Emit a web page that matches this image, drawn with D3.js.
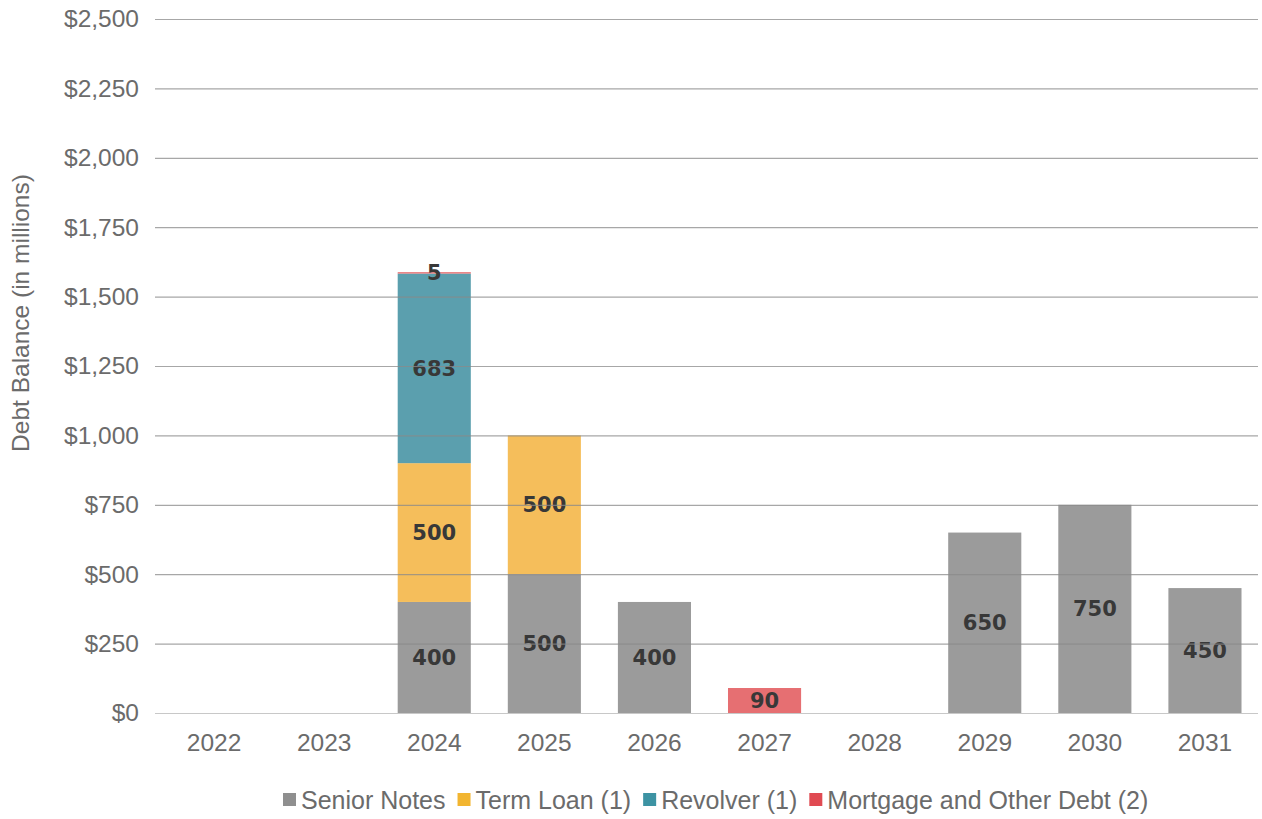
<!doctype html>
<html>
<head>
  <meta charset="utf-8">
  <title>Debt Maturity</title>
  <script src="https://cdnjs.cloudflare.com/ajax/libs/d3/7.8.5/d3.min.js"></script>
  <style>
    html, body { margin: 0; padding: 0; background: #fff; }
    svg text { font-family: "Liberation Sans", Arial, sans-serif; }
  </style>
</head>
<body>
  <div id="chart"></div>
  <script>
    // data
    const years = ['2022', '2023', '2024', '2025', '2026', '2027', '2028', '2029', '2030', '2031'];
    const seriesNames = ['Senior Notes', 'Term Loan (1)', 'Revolver (1)', 'Mortgage and Other Debt (2)'];
    const seniorNotes = [0, 0, 400, 500, 400, 0, 0, 650, 750, 450];
    const termLoan = [0, 0, 500, 500, 0, 0, 0, 0, 0, 0];
    const revolver = [0, 0, 683, 0, 0, 0, 0, 0, 0, 0];
    const mortgage = [0, 0, 5, 0, 0, 90, 0, 0, 0, 0];
    const yTicks = [0, 250, 500, 750, 1000, 1250, 1500, 1750, 2000, 2250, 2500];

    const colors = ['#9b9b9b', '#f5be5b', '#5b9fae', '#e66f72'];
    const legendColors = ['#8f8f8f', '#f2b530', '#3d93a3', '#e04a52'];
    const textGray = '#6b6b6b';

    const W = 1262, H = 819;
    const svg = d3.select('#chart').append('svg')
      .attr('width', W).attr('height', H);

    const x = d3.scaleBand().domain(years).range([159, 1260]).paddingInner(0.336).paddingOuter(0.168);
    const y = d3.scaleLinear().domain([0, 2500]).range([713, 19]);

    // stack table
    const table = years.map((yr, i) => ({
      year: yr,
      [seriesNames[0]]: seniorNotes[i],
      [seriesNames[1]]: termLoan[i],
      [seriesNames[2]]: revolver[i],
      [seriesNames[3]]: mortgage[i]
    }));
    const stacked = d3.stack().keys(seriesNames)(table);

    const layers = svg.selectAll('g.layer')
      .data(stacked)
      .join('g')
      .attr('class', 'layer')
      .attr('fill', (d, i) => colors[i]);

    layers.selectAll('rect')
      .data(d => d.filter(p => p[1] - p[0] > 0))
      .join('rect')
      .attr('x', d => x(d.data.year))
      .attr('width', x.bandwidth())
      .attr('y', d => y(d[1]))
      .attr('height', d => y(d[0]) - y(d[1]));

    // gridlines (drawn over the bars like the original)
    svg.append('g')
      .selectAll('line')
      .data(yTicks)
      .join('line')
      .attr('x1', 155).attr('x2', 1258)
      .attr('y1', d => y(d) + 0.5).attr('y2', d => y(d) + 0.5)
      .attr('stroke', d => d === 0 ? '#c8c8c8' : '#8a8a8a')
      .attr('stroke-opacity', d => d === 0 ? 1 : 0.75)
      .attr('stroke-width', 1.2);

    // value labels
    layers.selectAll('text')
      .data(d => d.filter(p => p[1] - p[0] > 0))
      .join('text')
      .attr('x', d => x(d.data.year) + x.bandwidth() / 2)
      .attr('y', d => y((d[0] + d[1]) / 2))
      .attr('dy', '0.36em')
      .attr('text-anchor', 'middle')
      .attr('fill', '#383838')
      .attr('font-size', 21)
      .attr('font-weight', 'bold')
      .style('font-family', '"DejaVu Sans", Verdana, sans-serif')
      .text(d => d[1] - d[0]);

    // y axis labels
    const yAxis = svg.append('g')
      .attr('transform', 'translate(139,0)')
      .call(d3.axisLeft(y).tickValues(yTicks).tickSize(0).tickPadding(0)
        .tickFormat(d => '$' + d3.format(',')(d)));
    yAxis.select('.domain').remove();
    yAxis.selectAll('text')
      .attr('font-size', 24.5)
      .attr('fill', textGray)
      .style('font-family', '"Liberation Sans", Arial, sans-serif');

    // x axis labels
    const xAxis = svg.append('g')
      .attr('transform', 'translate(0,713)')
      .call(d3.axisBottom(x).tickSize(0).tickPadding(21));
    xAxis.select('.domain').remove();
    xAxis.selectAll('text')
      .attr('font-size', 24.5)
      .attr('fill', textGray)
      .style('font-family', '"Liberation Sans", Arial, sans-serif');

    // y title
    svg.append('text')
      .attr('transform', 'translate(29,313) rotate(-90)')
      .attr('text-anchor', 'middle')
      .attr('font-size', 24.5)
      .attr('fill', textGray)
      .text('Debt Balance (in millions)');

    // legend
    const legend = svg.append('g').attr('transform', 'translate(283,800)');
    let lx = 0;
    seriesNames.forEach((name, i) => {
      const g = legend.append('g').attr('transform', `translate(${lx},0)`);
      g.append('rect').attr('x', 0).attr('y', -7).attr('width', 13).attr('height', 13)
        .attr('fill', legendColors[i]);
      const t = g.append('text').attr('x', 18).attr('y', 0).attr('dy', '0.35em')
        .attr('font-size', 25).attr('fill', textGray).text(name);
      lx += 18 + t.node().getComputedTextLength() + 12;
    });
  </script>
</body>
</html>
